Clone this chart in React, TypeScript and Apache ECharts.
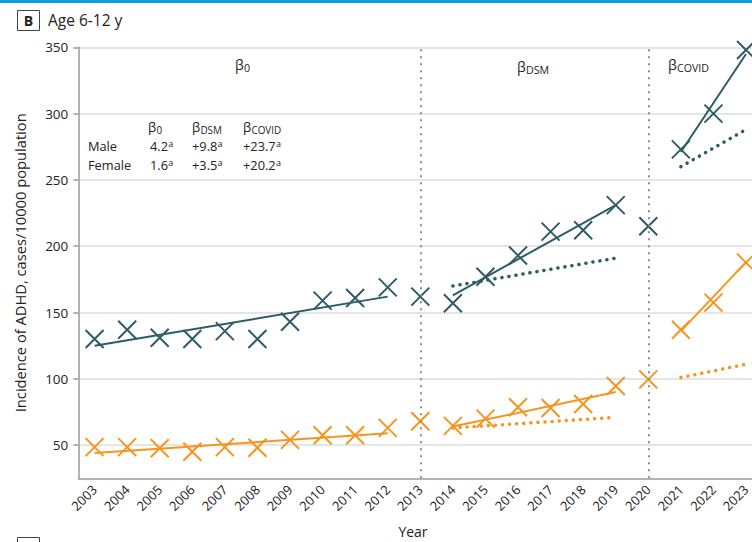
import React, { useEffect, useRef } from 'react';
import * as echarts from 'echarts';

// ---------- data ----------
const years = ['2003','2004','2005','2006','2007','2008','2009','2010','2011','2012','2013','2014','2015','2016','2017','2018','2019','2020','2021','2022','2023'];
const yTicks = [50, 100, 150, 200, 250, 300, 350];

const maleObserved = [130, 137, 131, 130, 136, 130, 143, 159, 161, 169, 162, 157, 177, 193, 211, 212, 231, 215, 273, 300, 348];
const femaleObserved = [48.5, 48.5, 47.7, 45, 48.5, 48, 54, 57.5, 57.5, 63, 68, 64.5, 70, 78.6, 78, 81, 94.6, 99.6, 137, 157.5, 187.6];

// fitted segments (endpoints)
const maleFitBase = [['2003', 125], ['2012', 162]];
const maleFitDsm = [['2014', 163], ['2019', 231]];
const maleFitCovid = [['2021', 271], ['2023', 345]];
const maleCfDsm = [['2014', 170], ['2019', 191]];
const maleCfCovid = [['2021', 260], ['2023', 288]];

const femaleFitBase = [['2003', 44], ['2012', 59]];
const femaleFitDsm = [['2014', 64], ['2019', 90]];
const femaleFitCovid = [['2021', 136], ['2023', 188]];
const femaleCfDsm = [['2014', 63], ['2019', 71]];
const femaleCfCovid = [['2021', 101], ['2023', 111]];

const breakYears = ['2013', '2020'];

const tableRows = ['Male', 'Female'];
const maleCoefs = ['4.2', '+9.8', '+23.7'];
const femaleCoefs = ['1.6', '+3.5', '+20.2'];
const coefSubs = ['0', 'DSM', 'COVID'];

// ---------- styles ----------
const TEAL = '#2e5c66';
const ORANGE = '#f7941e';
const TEXT = '#222222';
const FONT = '"Open Sans", "Noto Sans", "DejaVu Sans", sans-serif';
const XSYM = 'path://M0,0L10,10M10,0L0,10';

let _ctx: CanvasRenderingContext2D | null = null;
function measure(text: string, size: number, weight = 'normal') {
  if (!_ctx) _ctx = document.createElement('canvas').getContext('2d');
  if (!_ctx) return text.length * size * 0.55;
  _ctx.font = `${weight} ${size}px ${FONT}`;
  return _ctx.measureText(text).width;
}

type Part = { t: string; k?: 'sub' | 'sup' };
function richText(x: number, y: number, parts: Part[], size: number, subDy = 0.26, supDy = 0.24) {
  const els: any[] = [];
  let cx = x;
  for (const p of parts) {
    const fs = p.k === 'sub' ? size * 0.76 : p.k === 'sup' ? size * 0.7 : size;
    const dy = p.k === 'sub' ? size * subDy : p.k === 'sup' ? -size * supDy : 0;
    els.push({
      type: 'text',
      x: cx,
      y: y + dy,
      silent: true,
      style: { text: p.t, fontSize: fs, lineHeight: fs, fontFamily: FONT, fill: TEXT, align: 'left', verticalAlign: 'middle' },
    });
    cx += measure(p.t, fs) + (p.k ? 0 : 0.3);
  }
  return els;
}

function obsSeries(name: string, data: number[], color: string) {
  return {
    name,
    type: 'scatter',
    data,
    symbol: XSYM,
    symbolSize: 18,
    itemStyle: { color: 'rgba(0,0,0,0)', borderColor: color, borderWidth: 2, opacity: 1 },
    z: 3,
  };
}
function fitSeries(data: any[], color: string, dotted = false) {
  return {
    type: 'line',
    data,
    showSymbol: false,
    symbol: 'none',
    silent: true,
    lineStyle: dotted
      ? { color, width: 3.5, type: [0.1, 7], cap: 'round' }
      : { color, width: 2, type: 'solid' },
    z: 4,
  };
}

export default function App() {
  const ref = useRef<HTMLDivElement>(null);
  useEffect(() => {
    if (!ref.current) return;
    const chart = echarts.init(ref.current, null, { renderer: 'svg' });

    const graphics: any[] = [
      { type: 'rect', shape: { x: 0, y: 0, width: 800, height: 3 }, style: { fill: '#0f9bd7' }, silent: true },
      { type: 'rect', shape: { x: 17.5, y: 10.5, width: 22, height: 20 }, style: { fill: '#fff', stroke: '#444', lineWidth: 1 }, silent: true },
      { type: 'text', x: 28.5, y: 20.5, silent: true, style: { text: 'B', fontSize: 14, fontWeight: 'bold', fontFamily: FONT, fill: TEXT, align: 'center', verticalAlign: 'middle' } },
      { type: 'text', x: 48, y: 19.5, silent: true, style: { text: 'Age 6-12 y', fontSize: 15.5, fontFamily: FONT, fill: TEXT, align: 'left', verticalAlign: 'middle' } },
      { type: 'rect', shape: { x: 17.5, y: 537.5, width: 22, height: 20 }, style: { fill: '#fff', stroke: '#444', lineWidth: 1 }, silent: true },
      { type: 'text', x: 413, y: 531, silent: true, style: { text: 'Year', fontSize: 14, fontFamily: FONT, fill: TEXT, align: 'center', verticalAlign: 'middle' } },
    ];
    // period annotations
    graphics.push(...richText(235, 64, [{ t: 'β' }, { t: '0', k: 'sub' }], 14));
    graphics.push(...richText(517, 66, [{ t: 'β' }, { t: 'DSM', k: 'sub' }], 14));
    graphics.push(...richText(668, 64, [{ t: 'β' }, { t: 'COVID', k: 'sub' }], 14));
    // coefficient table
    const colX = [148, 192, 243];
    coefSubs.forEach((s, i) => graphics.push(...richText(colX[i], 127, [{ t: 'β' }, { t: s, k: 'sub' }], 13, 0.24)));
    [maleCoefs, femaleCoefs].forEach((row, r) => {
      const y = r === 0 ? 146 : 165;
      graphics.push(...richText(88, y, [{ t: tableRows[r] }], 12.8));
      row.forEach((v, i) => graphics.push(...richText(colX[i] + (i === 0 ? 2 : 0), y, [{ t: v }, { t: 'a', k: 'sup' }], 12.8, 0.26, 0.22)));
    });

    const option: any = {
      animation: false,
      backgroundColor: '#ffffff',
      textStyle: { fontFamily: FONT },
      grid: { left: 78.3, right: 0.7, top: 47.3, bottom: 63.7, containLabel: false },
      xAxis: {
        type: 'category',
        data: years,
        boundaryGap: true,
        axisLine: { lineStyle: { color: '#9a9a9a', width: 1.5 } },
        axisTick: { alignWithLabel: true, length: 5, lineStyle: { color: '#9a9a9a', width: 1.5 } },
        axisLabel: { rotate: 45, margin: 9, fontSize: 13, color: TEXT, fontFamily: FONT, interval: 0 },
        splitLine: { show: false },
      },
      yAxis: {
        type: 'value',
        min: 25,
        max: 350,
        splitNumber: 6,
        name: 'Incidence of ADHD, cases/10000 population',
        nameLocation: 'middle',
        nameGap: 51,
        nameTextStyle: { fontSize: 14.7, color: TEXT, fontFamily: FONT },
        axisLine: { show: true, lineStyle: { color: '#9a9a9a', width: 1.5 } },
        axisTick: { show: true, length: 5, customValues: yTicks, lineStyle: { color: '#9a9a9a', width: 1.5 } },
        axisLabel: {
          customValues: yTicks,
          margin: 10,
          fontSize: 13.5,
          color: TEXT,
          fontFamily: FONT,
          formatter: (v: number) => (v % 50 === 0 ? String(v) : ''),
        },
        splitLine: { show: true, lineStyle: { color: '#dddddd', width: 1.5 } },
      },
      graphic: graphics,
      series: [
        {
          type: 'line',
          data: [],
          silent: true,
          markLine: {
            silent: true,
            symbol: ['none', 'none'],
            label: { show: false },
            lineStyle: { color: '#8c8c8c', width: 2, type: [2, 5] },
            data: breakYears.map((y) => ({ xAxis: y })),
          },
        },
        obsSeries('Male', maleObserved, TEAL),
        obsSeries('Female', femaleObserved, ORANGE),
        fitSeries(maleFitBase, TEAL),
        fitSeries(maleFitDsm, TEAL),
        fitSeries(maleFitCovid, TEAL),
        fitSeries(maleCfDsm, TEAL, true),
        fitSeries(maleCfCovid, TEAL, true),
        fitSeries(femaleFitBase, ORANGE),
        fitSeries(femaleFitDsm, ORANGE),
        fitSeries(femaleFitCovid, ORANGE),
        fitSeries(femaleCfDsm, ORANGE, true),
        fitSeries(femaleCfCovid, ORANGE, true),
      ],
    };
    chart.setOption(option);
    return () => chart.dispose();
  }, []);

  return (
    <div style={{ position: 'fixed', left: 0, top: 0, width: 752, height: 542, overflow: 'hidden', background: '#fff' }}>
      <div ref={ref} style={{ width: 763, height: 542 }} />
    </div>
  );
}
